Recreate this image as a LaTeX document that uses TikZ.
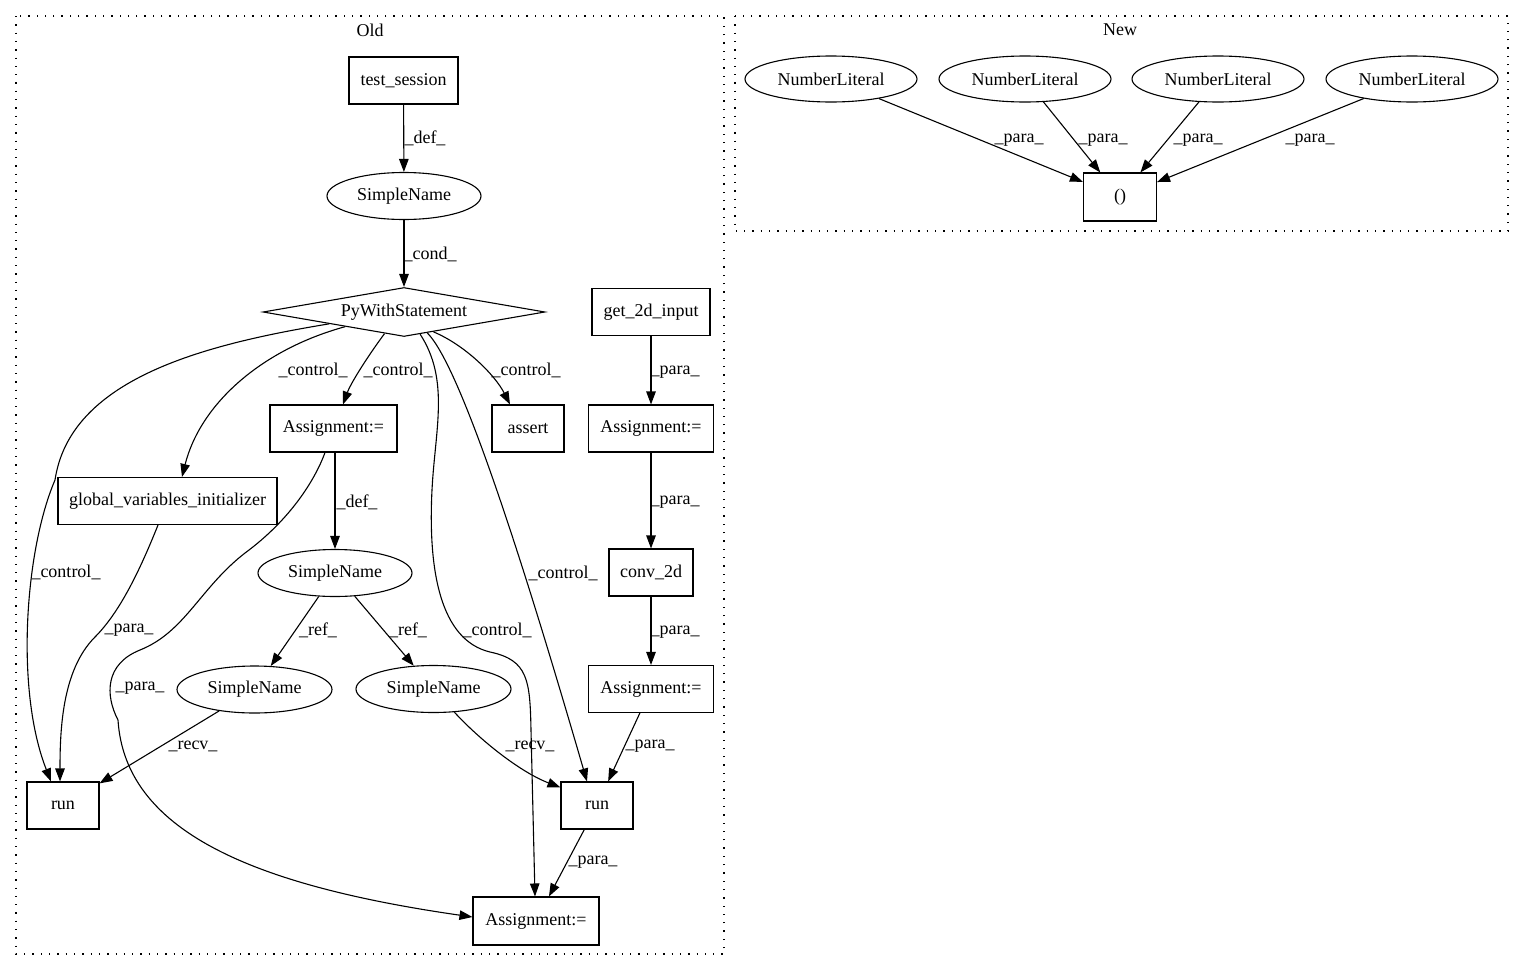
\documentclass[tikz,border=0pt]{standalone}
\usepackage{fontspec}
\setmainfont{Liberation Serif}
\usetikzlibrary{shapes.geometric,arrows.meta}
\begin{document}
\begin{tikzpicture}[x=1pt,y=-1pt,
  every node/.style={font=\fontsize{18}{21}\selectfont},
  box/.style={draw,line width=1.1pt,rectangle,inner sep=0pt,minimum height=47pt},
  ell/.style={draw,line width=1.1pt,ellipse,inner sep=0pt,minimum height=47pt},
  dia/.style={draw,line width=1.1pt,diamond,aspect=5.8,inner sep=0pt,minimum width=282pt,minimum height=49pt},
  edge/.style={line width=1.1pt,-{Triangle[length=13pt,width=9.5pt]}},
  lbl/.style={inner sep=0pt},
  cluster/.style={line width=1.2pt,dash pattern=on 1.3pt off 7pt}
]
\useasboundingbox (0,0) rectangle (1523,972);

% clusters
\draw[cluster] (16,16) rectangle (724,954);
\draw[cluster] (735,16) rectangle (1508,231);
\node[lbl] (oldlbl) at (370,30) {Old};
\node[lbl] (newlbl) at (1120,30) {New};

% Old nodes
\node[box,minimum width=109pt] (ts) at (403.5,80.5) {test\_session};
\node[ell,minimum width=154pt] (sn1) at (404,196) {SimpleName};
\node[dia] (pws) at (404,312) {PyWithStatement};
\node[box,minimum width=118pt] (g2d) at (651,312) {get\_2d\_input};
\node[box,minimum width=127pt] (a1) at (333.5,428.5) {Assignment:=};
\node[box,minimum width=72pt] (as) at (528,428.5) {assert};
\node[box,minimum width=125pt] (a2) at (651,428.5) {Assignment:=};
\node[box,minimum width=219pt] (gvi) at (167.5,501) {global\_variables\_initializer};
\node[ell,minimum width=154pt] (sn2) at (335,573) {SimpleName};
\node[box,minimum width=84pt] (c2d) at (651,572.5) {conv\_2d};
\node[ell,minimum width=155pt] (sn3) at (254.5,689.5) {SimpleName};
\node[ell,minimum width=155pt] (sn4) at (433.5,689) {SimpleName};
\node[box,minimum width=125pt] (a3) at (651,689) {Assignment:=};
\node[box,minimum width=72pt] (run1) at (63,805.5) {run};
\node[box,minimum width=72pt] (run2) at (597,805.5) {run};
\node[box,minimum width=126pt,minimum height=48pt] (a4) at (536,921) {Assignment:=};

% New nodes
\node[ell,minimum width=172pt,minimum height=46pt] (nl1) at (831,79) {NumberLiteral};
\node[ell,minimum width=172pt,minimum height=46pt] (nl2) at (1025,79) {NumberLiteral};
\node[ell,minimum width=172pt,minimum height=46pt] (nl3) at (1218,79) {NumberLiteral};
\node[ell,minimum width=172pt,minimum height=46pt] (nl4) at (1412,79) {NumberLiteral};
\node[box,minimum width=73pt,minimum height=48pt] (par) at (1120,197) {()};

% Old edges
\draw[edge] (ts) -- (sn1);
\draw[edge] (sn1) -- (pws);
\draw[edge] (pws.189.5) .. controls (200,345) and (70,380) .. (55,480)
  .. controls (25,550) and (15,690) .. ([xshift=-12pt]run1.north);
\draw[edge] (pws.194.8) .. controls (260,350) and (200,405) .. ([xshift=14.5pt]gvi.north);
\draw[edge] (pws.228) .. controls (365,360) and (350,385) .. ([xshift=9.5pt]a1.north);
\draw[edge] (pws.326) .. controls (465,345) and (495,375) .. ([xshift=-18pt]as.north);
\draw[edge] (pws.306.4) .. controls (450,380) and (435,430) .. (432,490)
  .. controls (428,570) and (440,640) .. (490,652)
  .. controls (528,660) and (530,680) .. (531,730) -- ([xshift=-1pt]a4.north);
\draw[edge] (pws.318.3) .. controls (465,370) and (540,620) .. ([xshift=-10pt]run2.north);
\draw[edge] (g2d) -- (a2);
\draw[edge] (a2) -- (c2d);
\draw[edge] (c2d) -- (a3);
\draw[edge] (a3) -- (run2);
\draw[edge] ([xshift=1.5pt]a1.south) -- (sn2);
\draw[edge] ([xshift=-8.5pt]a1.south) .. controls (315,480) and (290,520) .. (245,553)
  .. controls (200,588) and (185,632) .. (140,650)
  .. controls (105,664) and (105,695) .. (118,720)
  .. controls (125,830) and (250,885) .. ([yshift=4pt]a4.west);
\draw[edge] ([xshift=-9.5pt]gvi.south) .. controls (140,570) and (120,612) .. (95,637)
  .. controls (62,670) and (60,730) .. ([xshift=-3pt]run1.north);
\draw[edge] (sn2) -- (sn3);
\draw[edge] (sn2) -- (sn4);
\draw[edge] (sn3) -- (run1);
\draw[edge] (sn4.-48) .. controls (480,740) and (520,772) .. ([yshift=-6pt]run2.north west);
\draw[edge] (run2) -- (a4);

% New edges
\draw[edge] (nl1) -- (par);
\draw[edge] (nl2) -- (par);
\draw[edge] (nl3) -- (par);
\draw[edge] (nl4) -- (par);

% Labels
\node[lbl] (l1) at (425,138) {\_def\_};
\node[lbl] (l2) at (430,254) {\_cond\_};
\node[lbl] (l3) at (66,572) {\_control\_};
\node[lbl] (l4) at (313,370) {\_control\_};
\node[lbl] (l5) at (398,370) {\_control\_};
\node[lbl] (l6) at (526,370) {\_control\_};
\node[lbl] (l7) at (497,630) {\_control\_};
\node[lbl] (l8) at (563,573) {\_control\_};
\node[lbl] (l9) at (675,372) {\_para\_};
\node[lbl] (l10) at (675,502) {\_para\_};
\node[lbl] (l11) at (675,632) {\_para\_};
\node[lbl] (l12) at (650,746) {\_para\_};
\node[lbl] (l13) at (357,502) {\_def\_};
\node[lbl] (l14) at (140,688) {\_para\_};
\node[lbl] (l15) at (129,630) {\_para\_};
\node[lbl] (l16) at (318,630) {\_ref\_};
\node[lbl] (l17) at (408,630) {\_ref\_};
\node[lbl] (l18) at (193,746) {\_recv\_};
\node[lbl] (l19) at (530,746) {\_recv\_};
\node[lbl] (l20) at (593,862) {\_para\_};
\node[lbl] (l21) at (1019,140) {\_para\_};
\node[lbl] (l22) at (1103,140) {\_para\_};
\node[lbl] (l23) at (1198,140) {\_para\_};
\node[lbl] (l24) at (1310,140) {\_para\_};
\end{tikzpicture}
\end{document}
